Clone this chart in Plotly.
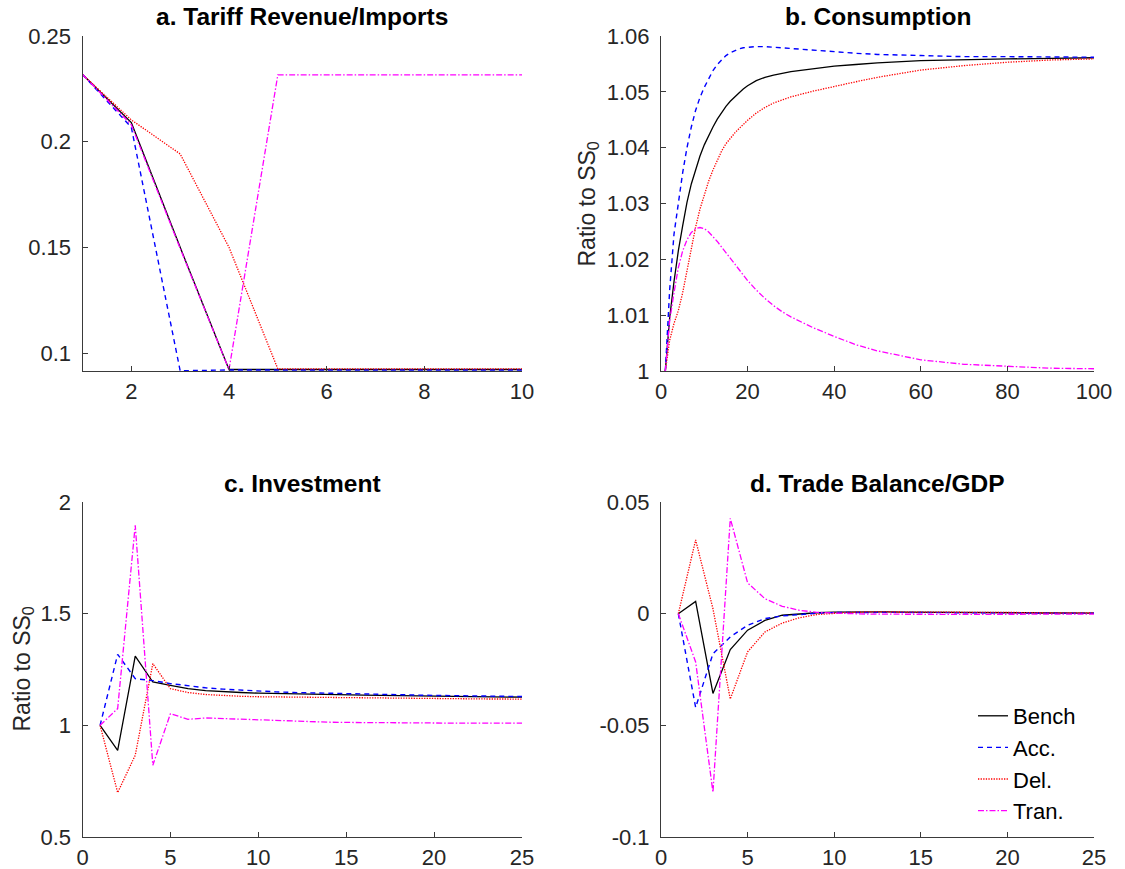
import plotly.graph_objects as go

# ---------------- data ----------------
# a. Tariff Revenue/Imports (periods 1..10)
t_a = [1, 2, 3, 4, 5, 6, 7, 8, 9, 10]
a_bench = [0.2318, 0.2090, 0.1500, 0.0922, 0.0922, 0.0922, 0.0922, 0.0922, 0.0922, 0.0922]
a_acc = [0.2318, 0.2068, 0.0916, 0.0920, 0.0920, 0.0920, 0.0920, 0.0920, 0.0920, 0.0920]
a_del = [0.2318, 0.2103, 0.1942, 0.1500, 0.0925, 0.0925, 0.0925, 0.0925, 0.0925, 0.0925]
a_tran = [0.2318, 0.2080, 0.1495, 0.0921, 0.2316, 0.2316, 0.2316, 0.2316, 0.2316, 0.2316]

# b. Consumption (periods 1..100, sampled)
t_b = [1, 2, 3, 4, 5, 6, 7, 8, 9, 10, 11, 12, 13, 14, 15, 16, 17, 18, 19, 20,
       22, 24, 26, 28, 30, 35, 40, 45, 50, 60, 70, 80, 90, 100]
b_bench = [1.0000, 1.0095, 1.0160, 1.0215, 1.0260, 1.0302, 1.0335, 1.0362, 1.0385, 1.0405,
           1.0422, 1.0437, 1.0451, 1.0463, 1.0474, 1.0483, 1.0491, 1.0498, 1.0505, 1.0511,
           1.0520, 1.0526, 1.0530, 1.0533, 1.0536, 1.0541, 1.0546, 1.0549, 1.0552, 1.0556,
           1.0558, 1.0559, 1.0560, 1.0561]
b_acc = [1.0000, 1.0145, 1.0245, 1.0305, 1.0355, 1.0400, 1.0437, 1.0467, 1.0490, 1.0508,
         1.0524, 1.0538, 1.0549, 1.0558, 1.0565, 1.0570, 1.0574, 1.0577, 1.0579, 1.0580,
         1.0581, 1.0581, 1.0580, 1.0579, 1.0578, 1.0575, 1.0572, 1.0569, 1.0567, 1.0565,
         1.0563, 1.0563, 1.0562, 1.0562]
b_del = [1.0000, 1.0055, 1.0085, 1.0108, 1.0140, 1.0180, 1.0222, 1.0258, 1.0290, 1.0317,
         1.0340, 1.0360, 1.0378, 1.0394, 1.0407, 1.0417, 1.0426, 1.0434, 1.0442, 1.0449,
         1.0462, 1.0472, 1.0480, 1.0486, 1.0491, 1.0501, 1.0510, 1.0518, 1.0526, 1.0539,
         1.0547, 1.0553, 1.0557, 1.0559]
b_tran = [1.0000, 1.0090, 1.0140, 1.0185, 1.0215, 1.0235, 1.0248, 1.0255, 1.0257, 1.0255,
          1.0249, 1.0241, 1.0232, 1.0222, 1.0212, 1.0202, 1.0192, 1.0182, 1.0172, 1.0162,
          1.0145, 1.0130, 1.0117, 1.0106, 1.0097, 1.0078, 1.0062, 1.0047, 1.0036, 1.0020,
          1.0012, 1.0008, 1.0005, 1.0004]

# c. Investment (periods 1..25)
t_c = list(range(1, 26))
c_bench = [1.000, 0.888, 1.310, 1.194, 1.179, 1.164, 1.155, 1.150, 1.147, 1.144,
           1.142, 1.140, 1.138, 1.137, 1.136, 1.135, 1.134, 1.133, 1.132, 1.131,
           1.130, 1.129, 1.128, 1.127, 1.126]
c_acc = [1.000, 1.318, 1.209, 1.200, 1.187, 1.177, 1.168, 1.162, 1.157, 1.153,
         1.150, 1.147, 1.145, 1.143, 1.141, 1.139, 1.138, 1.136, 1.135, 1.134,
         1.133, 1.132, 1.131, 1.130, 1.129]
c_del = [1.000, 0.699, 0.866, 1.276, 1.164, 1.147, 1.138, 1.133, 1.130, 1.128,
         1.127, 1.126, 1.125, 1.124, 1.123, 1.122, 1.121, 1.121, 1.120, 1.120,
         1.119, 1.119, 1.118, 1.118, 1.117]
c_tran = [1.000, 1.075, 1.896, 0.821, 1.052, 1.027, 1.033, 1.030, 1.027, 1.024,
          1.021, 1.018, 1.016, 1.014, 1.013, 1.012, 1.012, 1.011, 1.011, 1.011,
          1.010, 1.010, 1.010, 1.010, 1.010]

# d. Trade Balance/GDP (periods 1..25)
t_d = list(range(1, 26))
d_bench = [0.0, 0.0055, -0.0357, -0.0161, -0.0074, -0.0030, -0.0007, 0.0000, 0.0004, 0.0007,
           0.0008, 0.0008, 0.0008, 0.0007, 0.0007, 0.0006, 0.0006, 0.0005, 0.0005, 0.0004,
           0.0004, 0.0003, 0.0003, 0.0002, 0.0002]
d_acc = [0.0, -0.0420, -0.0179, -0.0104, -0.0052, -0.0022, -0.0010, -0.0003, 0.0002, 0.0005,
         0.0006, 0.0006, 0.0006, 0.0006, 0.0005, 0.0005, 0.0004, 0.0004, 0.0004, 0.0003,
         0.0003, 0.0003, 0.0002, 0.0002, 0.0002]
d_del = [0.0, 0.0330, 0.0022, -0.0382, -0.0171, -0.0082, -0.0042, -0.0018, -0.0004, 0.0002,
         0.0006, 0.0008, 0.0008, 0.0008, 0.0008, 0.0007, 0.0007, 0.0006, 0.0006, 0.0005,
         0.0005, 0.0004, 0.0004, 0.0003, 0.0003]
d_tran = [0.0, -0.0216, -0.0800, 0.0427, 0.0138, 0.0067, 0.0033, 0.0015, 0.0006, 0.0002,
          0.0000, -0.0002, -0.0003, -0.0003, -0.0003, -0.0003, -0.0003, -0.0003, -0.0003, -0.0002,
          -0.0002, -0.0002, -0.0002, -0.0002, -0.0002]

series_names = ["Bench", "Acc.", "Del.", "Tran."]
titles = ["a. Tariff Revenue/Imports", "b. Consumption", "c. Investment", "d. Trade Balance/GDP"]

# ---------------- style ----------------
W, H = 1125, 869
FONT = "Liberation Sans, Arial, Helvetica, sans-serif"
AX_COLOR = "#3a3a3a"
TICK_COLOR = "#262626"
styles = [
    dict(color="#000000", width=1.3, dash="solid"),
    dict(color="#0000ff", width=1.4, dash="5px,4px"),
    dict(color="#ff0000", width=1.3, dash="1.3px,1.3px"),
    dict(color="#ff00ff", width=1.3, dash="6px,2px,1.5px,2px"),
]

# panel pixel boxes: (left, right, top, bottom)
boxes = {
    1: (82.5, 522.0, 36.0, 371.0),
    2: (661.0, 1094.0, 36.0, 371.0),
    3: (82.5, 522.0, 502.0, 837.0),
    4: (661.0, 1094.0, 502.0, 837.0),
}

fig = go.Figure()

panels = [
    (1, t_a, [a_bench, a_acc, a_del, a_tran]),
    (2, t_b, [b_bench, b_acc, b_del, b_tran]),
    (3, t_c, [c_bench, c_acc, c_del, c_tran]),
    (4, t_d, [d_bench, d_acc, d_del, d_tran]),
]

for idx, xs, ys_list in panels:
    suffix = "" if idx == 1 else str(idx)
    for k, ys in enumerate(ys_list):
        fig.add_trace(go.Scatter(
            x=xs, y=ys, mode="lines", name=series_names[k],
            line=styles[k], xaxis="x" + suffix, yaxis="y" + suffix,
            showlegend=(idx == 4), hoverinfo="skip",
        ))

axis_specs = {
    1: dict(xr=[1, 10], xt=[2, 4, 6, 8, 10], xtt=["2", "4", "6", "8", "10"],
            yr=[0.0915, 0.25], yt=[0.1, 0.15, 0.2, 0.25], ytt=["0.1", "0.15", "0.2", "0.25"]),
    2: dict(xr=[0, 100], xt=[0, 20, 40, 60, 80, 100], xtt=["0", "20", "40", "60", "80", "100"],
            yr=[1.0, 1.06], yt=[1.0, 1.01, 1.02, 1.03, 1.04, 1.05, 1.06],
            ytt=["1", "1.01", "1.02", "1.03", "1.04", "1.05", "1.06"]),
    3: dict(xr=[0, 25], xt=[0, 5, 10, 15, 20, 25], xtt=["0", "5", "10", "15", "20", "25"],
            yr=[0.5, 2.0], yt=[0.5, 1.0, 1.5, 2.0], ytt=["0.5", "1", "1.5", "2"]),
    4: dict(xr=[0, 25], xt=[0, 5, 10, 15, 20, 25], xtt=["0", "5", "10", "15", "20", "25"],
            yr=[-0.1, 0.05], yt=[-0.1, -0.05, 0.0, 0.05], ytt=["-0.1", "-0.05", "0", "0.05"]),
}

layout_axes = {}
for idx, spec in axis_specs.items():
    l, r, t, b = boxes[idx]
    suffix = "" if idx == 1 else str(idx)
    common = dict(showline=True, linecolor=AX_COLOR, linewidth=1, mirror=False,
                  ticks="inside", ticklen=5, tickwidth=1, tickcolor=AX_COLOR,
                  showgrid=False, zeroline=False, tickmode="array",
                  tickfont=dict(family=FONT, size=22, color=TICK_COLOR),
                  fixedrange=True, automargin=False)
    layout_axes["xaxis" + suffix] = dict(
        common, domain=[l / W, r / W], range=spec["xr"], tickvals=spec["xt"],
        ticktext=spec["xtt"], anchor="y" + suffix, ticklabelstandoff=1)
    layout_axes["yaxis" + suffix] = dict(
        common, domain=[1 - b / H, 1 - t / H], range=spec["yr"], tickvals=spec["yt"],
        ticktext=spec["ytt"], anchor="x" + suffix, ticklabelstandoff=6)

fig.update_layout(**layout_axes)

annotations = []
for idx, title in enumerate(titles, start=1):
    l, r, t, b = boxes[idx]
    annotations.append(dict(
        text="<b>" + title + "</b>", x=(l + r) / 2 / W, y=1 - (t - 19) / H,
        xref="paper", yref="paper", xanchor="center", yanchor="middle",
        showarrow=False, font=dict(family=FONT, size=24.5, color="#000000")))

# y-axis labels
for xpix, idx in [(588, 2), (23, 3)]:
    l, r, t, b = boxes[idx]
    annotations.append(dict(
        text="Ratio to SS<sub>0</sub>", x=xpix / W, y=1 - ((t + b) / 2) / H,
        xref="paper", yref="paper", xanchor="center", yanchor="middle",
        textangle=-90, showarrow=False,
        font=dict(family=FONT, size=23, color=TICK_COLOR)))

fig.update_layout(
    template="none",
    width=W, height=H,
    margin=dict(l=0, r=0, t=0, b=0, pad=0, autoexpand=False),
    paper_bgcolor="white", plot_bgcolor="white",
    font=dict(family=FONT, color=TICK_COLOR),
    annotations=annotations,
    legend=dict(x=973 / W, y=1 - 695 / H, xanchor="left", yanchor="top",
                bgcolor="rgba(0,0,0,0)", borderwidth=0,
                font=dict(family=FONT, size=22, color="#000000"),
                tracegroupgap=0),
    showlegend=True,
)

fig.write_html("out.html")
